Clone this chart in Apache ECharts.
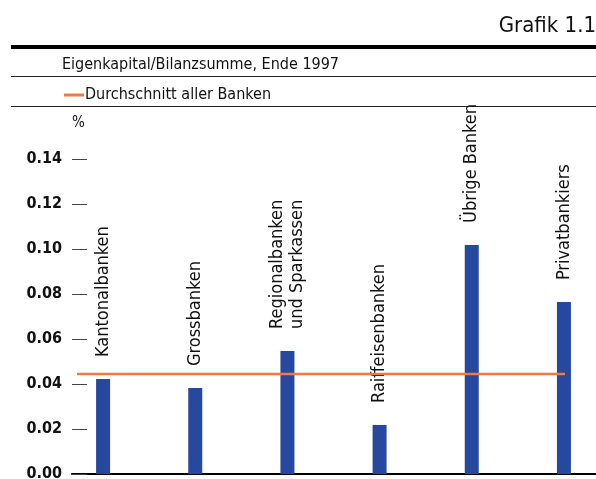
<!DOCTYPE html>
<html lang="de">
<head>
    <meta charset="UTF-8">
    <title>Grafik 1.1</title>
    <script src="https://cdn.jsdelivr.net/npm/echarts@6/dist/echarts.min.js"></script>
    <style>
        body { margin: 0; background: #fff; }
    </style>
</head>
<body>
<div id="main" style="width: 596px;height:479px;"></div>
<script type="text/javascript">
    // Daten
    var categories = ['Kantonalbanken', 'Grossbanken', 'Regionalbanken\nund Sparkassen',
        'Raiffeisenbanken', 'Übrige Banken', 'Privatbankiers'];
    var ratio = [0.0422, 0.0382, 0.0547, 0.0218, 0.1018, 0.0764];
    var average = 0.0444;
    var yTicks = [0, 0.02, 0.04, 0.06, 0.08, 0.10, 0.12, 0.14];

    var font = "'DejaVu Sans Condensed', 'DejaVu Sans', sans-serif";
    var blue = '#27489f';
    var orange = '#f27a3c';

    var yMin = yTicks[0], yMax = yTicks[yTicks.length - 1];

    var myChart = echarts.init(document.getElementById('main'));

    var option = {
        animation: false,
        title: [{
            text: 'Grafik 1.1',
            right: -5, top: 10,
            textStyle: { fontFamily: font, fontSize: 22, fontWeight: 'normal', color: '#111' }
        }, {
            text: 'Eigenkapital/Bilanzsumme, Ende 1997',
            left: 57, top: 52,
            textStyle: { fontFamily: font, fontSize: 16, fontWeight: 'normal', color: '#111' }
        }],
        legend: {
            data: ['Durchschnitt aller Banken'],
            left: 59, top: 82,
            icon: 'rect',
            itemWidth: 20, itemHeight: 3, itemGap: 4,
            textStyle: { fontFamily: font, fontSize: 16, color: '#111', padding: [0, 0, 0, -4] }
        },
        graphic: [
            { type: 'rect', shape: { x: 11, y: 45, width: 585, height: 4 }, style: { fill: '#000' } },
            { type: 'rect', shape: { x: 11, y: 76, width: 585, height: 1 }, style: { fill: '#222' } },
            { type: 'rect', shape: { x: 11, y: 106, width: 585, height: 1 }, style: { fill: '#222' } }
        ],
        grid: [
            { left: 72, right: 0, top: 159, bottom: 5, outerBoundsMode: 'none' },   // Achsen
            { left: 57, width: 553, top: 159, bottom: 5, outerBoundsMode: 'none' }, // Balken
            { left: 77, right: 31, top: 159, bottom: 5, outerBoundsMode: 'none' }   // Durchschnitt
        ],
        xAxis: [{
            gridIndex: 0, type: 'category', data: [''],
            axisLine: { show: true, lineStyle: { color: '#000', width: 2 } },
            axisTick: { show: false }, axisLabel: { show: false }
        }, {
            gridIndex: 1, type: 'category', data: categories,
            axisLine: { show: false }, axisTick: { show: false }, axisLabel: { show: false }
        }, {
            gridIndex: 2, type: 'category', data: ['a', 'b'], boundaryGap: false,
            axisLine: { show: false }, axisTick: { show: false }, axisLabel: { show: false }
        }],
        yAxis: [{
            gridIndex: 0, type: 'value', min: yMin, max: yMax, interval: 0.02,
            name: '%', nameLocation: 'end', nameGap: 28,
            nameTextStyle: { fontFamily: font, fontSize: 15, color: '#111', align: 'left' },
            axisLine: { show: false },
            axisTick: { show: true, inside: true, length: 15, lineStyle: { color: '#444', width: 1 } },
            axisLabel: {
                margin: 10, fontFamily: font, fontSize: 16, fontWeight: 'bold', color: '#111',
                formatter: function (v) { return v.toFixed(2); }
            },
            splitLine: { show: false }
        }, {
            gridIndex: 1, type: 'value', min: yMin, max: yMax, show: false, splitLine: { show: false }
        }, {
            gridIndex: 2, type: 'value', min: yMin, max: yMax, show: false, splitLine: { show: false }
        }],
        series: [{
            name: 'Eigenkapital/Bilanzsumme',
            type: 'bar',
            xAxisIndex: 1, yAxisIndex: 1,
            barWidth: 14,
            itemStyle: { color: blue },
            label: {
                show: true, position: 'top', distance: 22, rotate: 90,
                align: 'left', verticalAlign: 'middle',
                fontFamily: font, fontSize: 18, color: '#111', lineHeight: 20,
                formatter: function (p) { return p.name; }
            },
            data: ratio
        }, {
            name: 'Durchschnitt aller Banken',
            type: 'line',
            xAxisIndex: 2, yAxisIndex: 2,
            symbol: 'none',
            lineStyle: { color: orange, width: 2.5 },
            itemStyle: { color: orange },
            data: [average, average]
        }]
    };
    myChart.setOption(option);
</script>
</body>
</html>
